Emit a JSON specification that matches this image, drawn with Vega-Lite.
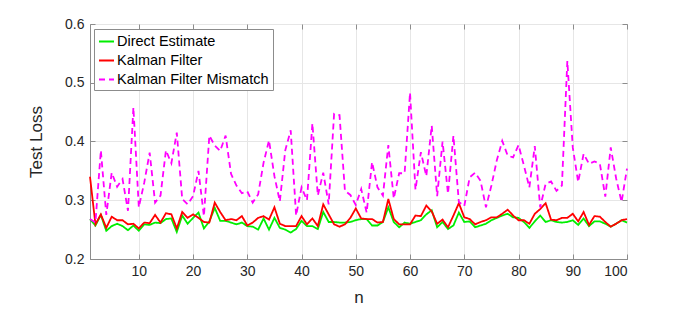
{
  "$schema": "https://vega.github.io/schema/vega-lite/v6.json",
  "width": 537,
  "height": 235,
  "autosize": {"type": "none"},
  "padding": {"left": 90, "top": 24, "right": 65, "bottom": 71},
  "background": "white",
  "config": {
    "font": "Liberation Sans",
    "view": {"stroke": "#8c8c8c", "strokeWidth": 1},
    "axis": {
      "gridColor": "#e6e6e6",
      "gridWidth": 1,
      "domainColor": "#8c8c8c",
      "tickColor": "#8c8c8c",
      "tickSize": -5,
      "labelColor": "#262626",
      "titleColor": "#262626",
      "labelFontSize": 14,
      "titleFontSize": 17,
      "titleFontWeight": "normal",
      "labelFont": "Liberation Sans",
      "titleFont": "Liberation Sans"
    }
  },
  "datasets": {
    "direct": [
      {"n":1,"v":0.268},{"n":2,"v":0.257},{"n":3,"v":0.275},{"n":4,"v":0.248},{"n":5,"v":0.256},{"n":6,"v":0.260},{"n":7,"v":0.256},{"n":8,"v":0.249},{"n":9,"v":0.257},{"n":10,"v":0.248},
      {"n":11,"v":0.259},{"n":12,"v":0.258},{"n":13,"v":0.262},{"n":14,"v":0.261},{"n":15,"v":0.268},{"n":16,"v":0.269},{"n":17,"v":0.246},{"n":18,"v":0.274},{"n":19,"v":0.260},{"n":20,"v":0.270},
      {"n":21,"v":0.279},{"n":22,"v":0.252},{"n":23,"v":0.264},{"n":24,"v":0.287},{"n":25,"v":0.265},{"n":26,"v":0.265},{"n":27,"v":0.262},{"n":28,"v":0.259},{"n":29,"v":0.262},{"n":30,"v":0.256},
      {"n":31,"v":0.255},{"n":32,"v":0.250},{"n":33,"v":0.269},{"n":34,"v":0.250},{"n":35,"v":0.270},{"n":36,"v":0.253},{"n":37,"v":0.250},{"n":38,"v":0.245},{"n":39,"v":0.251},{"n":40,"v":0.265},
      {"n":41,"v":0.256},{"n":42,"v":0.256},{"n":43,"v":0.251},{"n":44,"v":0.280},{"n":45,"v":0.263},{"n":46,"v":0.263},{"n":47,"v":0.262},{"n":48,"v":0.262},{"n":49,"v":0.263},{"n":50,"v":0.266},
      {"n":51,"v":0.268},{"n":52,"v":0.268},{"n":53,"v":0.257},{"n":54,"v":0.257},{"n":55,"v":0.263},{"n":56,"v":0.288},{"n":57,"v":0.263},{"n":58,"v":0.254},{"n":59,"v":0.262},{"n":60,"v":0.260},
      {"n":61,"v":0.263},{"n":62,"v":0.266},{"n":63,"v":0.276},{"n":64,"v":0.283},{"n":65,"v":0.254},{"n":66,"v":0.263},{"n":67,"v":0.251},{"n":68,"v":0.257},{"n":69,"v":0.279},{"n":70,"v":0.263},
      {"n":71,"v":0.264},{"n":72,"v":0.254},{"n":73,"v":0.257},{"n":74,"v":0.260},{"n":75,"v":0.266},{"n":76,"v":0.270},{"n":77,"v":0.274},{"n":78,"v":0.277},{"n":79,"v":0.271},{"n":80,"v":0.270},
      {"n":81,"v":0.263},{"n":82,"v":0.253},{"n":83,"v":0.264},{"n":84,"v":0.274},{"n":85,"v":0.263},{"n":86,"v":0.266},{"n":87,"v":0.263},{"n":88,"v":0.262},{"n":89,"v":0.263},{"n":90,"v":0.266},
      {"n":91,"v":0.258},{"n":92,"v":0.269},{"n":93,"v":0.256},{"n":94,"v":0.264},{"n":95,"v":0.264},{"n":96,"v":0.260},{"n":97,"v":0.255},{"n":98,"v":0.260},{"n":99,"v":0.266},{"n":100,"v":0.262}
    ],
    "kalman": [
      {"n":1,"v":0.340},{"n":2,"v":0.259},{"n":3,"v":0.276},{"n":4,"v":0.253},{"n":5,"v":0.272},{"n":6,"v":0.266},{"n":7,"v":0.266},{"n":8,"v":0.259},{"n":9,"v":0.260},{"n":10,"v":0.252},
      {"n":11,"v":0.262},{"n":12,"v":0.261},{"n":13,"v":0.275},{"n":14,"v":0.262},{"n":15,"v":0.278},{"n":16,"v":0.276},{"n":17,"v":0.252},{"n":18,"v":0.280},{"n":19,"v":0.270},{"n":20,"v":0.276},
      {"n":21,"v":0.270},{"n":22,"v":0.263},{"n":23,"v":0.262},{"n":24,"v":0.296},{"n":25,"v":0.280},{"n":26,"v":0.266},{"n":27,"v":0.268},{"n":28,"v":0.266},{"n":29,"v":0.273},{"n":30,"v":0.257},
      {"n":31,"v":0.262},{"n":32,"v":0.270},{"n":33,"v":0.273},{"n":34,"v":0.267},{"n":35,"v":0.288},{"n":36,"v":0.260},{"n":37,"v":0.256},{"n":38,"v":0.256},{"n":39,"v":0.256},{"n":40,"v":0.273},
      {"n":41,"v":0.259},{"n":42,"v":0.269},{"n":43,"v":0.256},{"n":44,"v":0.293},{"n":45,"v":0.276},{"n":46,"v":0.259},{"n":47,"v":0.255},{"n":48,"v":0.259},{"n":49,"v":0.270},{"n":50,"v":0.286},
      {"n":51,"v":0.269},{"n":52,"v":0.268},{"n":53,"v":0.268},{"n":54,"v":0.262},{"n":55,"v":0.263},{"n":56,"v":0.302},{"n":57,"v":0.268},{"n":58,"v":0.259},{"n":59,"v":0.259},{"n":60,"v":0.259},
      {"n":61,"v":0.274},{"n":62,"v":0.273},{"n":63,"v":0.291},{"n":64,"v":0.281},{"n":65,"v":0.260},{"n":66,"v":0.267},{"n":67,"v":0.254},{"n":68,"v":0.274},{"n":69,"v":0.295},{"n":70,"v":0.271},
      {"n":71,"v":0.268},{"n":72,"v":0.259},{"n":73,"v":0.263},{"n":74,"v":0.266},{"n":75,"v":0.271},{"n":76,"v":0.271},{"n":77,"v":0.277},{"n":78,"v":0.284},{"n":79,"v":0.274},{"n":80,"v":0.266},
      {"n":81,"v":0.266},{"n":82,"v":0.260},{"n":83,"v":0.277},{"n":84,"v":0.285},{"n":85,"v":0.295},{"n":86,"v":0.267},{"n":87,"v":0.266},{"n":88,"v":0.270},{"n":89,"v":0.270},{"n":90,"v":0.277},
      {"n":91,"v":0.264},{"n":92,"v":0.280},{"n":93,"v":0.258},{"n":94,"v":0.273},{"n":95,"v":0.272},{"n":96,"v":0.263},{"n":97,"v":0.255},{"n":98,"v":0.260},{"n":99,"v":0.266},{"n":100,"v":0.268}
    ],
    "mismatch": [
      {"n":1,"v":0.268},{"n":2,"v":0.262},{"n":3,"v":0.385},{"n":4,"v":0.275},{"n":5,"v":0.347},{"n":6,"v":0.323},{"n":7,"v":0.336},{"n":8,"v":0.282},{"n":9,"v":0.458},{"n":10,"v":0.288},
      {"n":11,"v":0.330},{"n":12,"v":0.381},{"n":13,"v":0.296},{"n":14,"v":0.308},{"n":15,"v":0.385},{"n":16,"v":0.363},{"n":17,"v":0.415},{"n":18,"v":0.302},{"n":19,"v":0.293},{"n":20,"v":0.307},
      {"n":21,"v":0.350},{"n":22,"v":0.273},{"n":23,"v":0.410},{"n":24,"v":0.393},{"n":25,"v":0.384},{"n":26,"v":0.410},{"n":27,"v":0.345},{"n":28,"v":0.325},{"n":29,"v":0.312},{"n":30,"v":0.315},
      {"n":31,"v":0.296},{"n":32,"v":0.310},{"n":33,"v":0.364},{"n":34,"v":0.402},{"n":35,"v":0.341},{"n":36,"v":0.298},{"n":37,"v":0.385},{"n":38,"v":0.419},{"n":39,"v":0.274},{"n":40,"v":0.322},
      {"n":41,"v":0.300},{"n":42,"v":0.431},{"n":43,"v":0.308},{"n":44,"v":0.347},{"n":45,"v":0.293},{"n":46,"v":0.447},{"n":47,"v":0.445},{"n":48,"v":0.316},{"n":49,"v":0.309},{"n":50,"v":0.292},
      {"n":51,"v":0.319},{"n":52,"v":0.279},{"n":53,"v":0.365},{"n":54,"v":0.322},{"n":55,"v":0.308},{"n":56,"v":0.394},{"n":57,"v":0.303},{"n":58,"v":0.346},{"n":59,"v":0.346},{"n":60,"v":0.483},
      {"n":61,"v":0.318},{"n":62,"v":0.382},{"n":63,"v":0.341},{"n":64,"v":0.427},{"n":65,"v":0.307},{"n":66,"v":0.400},{"n":67,"v":0.311},{"n":68,"v":0.410},{"n":69,"v":0.297},{"n":70,"v":0.290},
      {"n":71,"v":0.339},{"n":72,"v":0.347},{"n":73,"v":0.333},{"n":74,"v":0.288},{"n":75,"v":0.325},{"n":76,"v":0.368},{"n":77,"v":0.401},{"n":78,"v":0.376},{"n":79,"v":0.373},{"n":80,"v":0.394},
      {"n":81,"v":0.359},{"n":82,"v":0.322},{"n":83,"v":0.392},{"n":84,"v":0.288},{"n":85,"v":0.328},{"n":86,"v":0.332},{"n":87,"v":0.316},{"n":88,"v":0.325},{"n":89,"v":0.537},{"n":90,"v":0.390},
      {"n":91,"v":0.331},{"n":92,"v":0.379},{"n":93,"v":0.362},{"n":94,"v":0.366},{"n":95,"v":0.362},{"n":96,"v":0.306},{"n":97,"v":0.390},{"n":98,"v":0.337},{"n":99,"v":0.297},{"n":100,"v":0.354}
    ]
  },
  "resolve": {"axis": {"x": "independent", "y": "independent"}},
  "layer": [
    {
      "data": {"name": "direct"},
      "mark": {"type": "line", "strokeWidth": 1.8},
      "encoding": {
        "x": {
          "field": "n",
          "type": "quantitative",
          "scale": {"domain": [1, 100], "nice": false, "zero": false},
          "axis": {"orient": "bottom", "grid": true, "values": [10, 20, 30, 40, 50, 60, 70, 80, 90, 100], "title": "n", "labelPadding": 10, "titlePadding": 11}
        },
        "y": {
          "field": "v",
          "type": "quantitative",
          "scale": {"domain": [0.2, 0.6], "nice": false, "zero": false},
          "axis": {"orient": "left", "grid": true, "values": [0.2, 0.3, 0.4, 0.5, 0.6], "format": ".1f", "title": "Test Loss", "labelPadding": 11, "titlePadding": 19}
        },
        "color": {
          "datum": "Direct Estimate",
          "scale": {"domain": ["Direct Estimate", "Kalman Filter", "Kalman Filter Mismatch"], "range": ["#00ee00", "#ff0000", "#ff00ff"]},
          "legend": {
            "title": null,
            "orient": "none",
            "legendX": 4,
            "legendY": 5,
            "fillColor": "white",
            "strokeColor": "#8c8c8c",
            "padding": 4,
            "labelFontSize": 14.5,
            "labelColor": "#000000",
            "labelLimit": 300,
            "labelOffset": 2,
            "symbolType": "stroke",
            "symbolSize": 225,
            "symbolStrokeWidth": 2,
            "rowPadding": 4
          }
        },
        "strokeDash": {
          "datum": "Direct Estimate",
          "scale": {"domain": ["Direct Estimate", "Kalman Filter", "Kalman Filter Mismatch"], "range": [[1, 0], [1, 0], [6, 4]]},
          "legend": null
        }
      }
    },
    {
      "data": {"name": "kalman"},
      "mark": {"type": "line", "strokeWidth": 1.8},
      "encoding": {
        "x": {"field": "n", "type": "quantitative", "axis": null},
        "y": {"field": "v", "type": "quantitative", "axis": null},
        "color": {"datum": "Kalman Filter"},
        "strokeDash": {"datum": "Kalman Filter"}
      }
    },
    {
      "data": {"name": "mismatch"},
      "mark": {"type": "line", "strokeWidth": 1.8},
      "encoding": {
        "x": {"field": "n", "type": "quantitative", "axis": {"orient": "top", "grid": false, "values": [10, 20, 30, 40, 50, 60, 70, 80, 90, 100], "labels": false, "domain": false, "title": null}},
        "y": {"field": "v", "type": "quantitative", "axis": {"orient": "right", "grid": false, "values": [0.2, 0.3, 0.4, 0.5, 0.6], "labels": false, "domain": false, "title": null}},
        "color": {"datum": "Kalman Filter Mismatch"},
        "strokeDash": {"datum": "Kalman Filter Mismatch"}
      }
    }
  ]
}
